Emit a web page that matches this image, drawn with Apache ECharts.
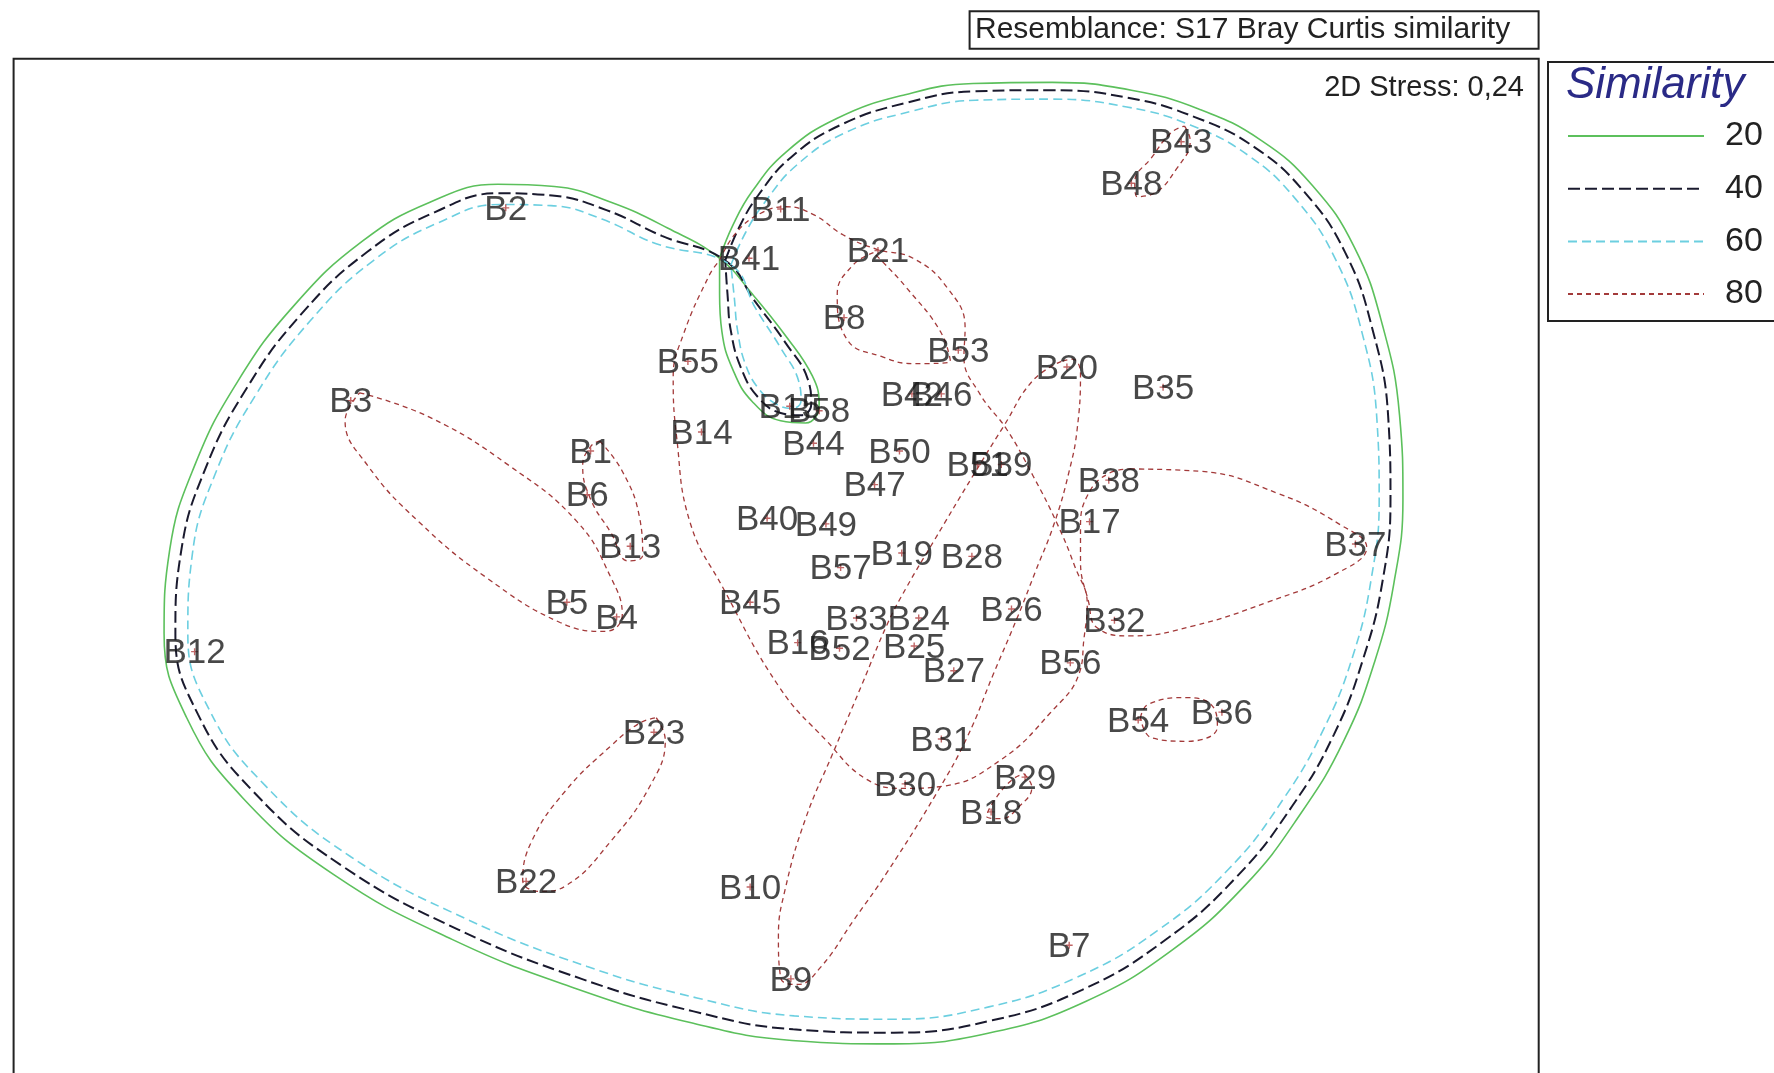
<!DOCTYPE html>
<html><head><meta charset="utf-8">
<script src="https://cdn.jsdelivr.net/npm/echarts@6/dist/echarts.min.js"></script>
<style>html,body{margin:0;padding:0;background:#fff}#chart{width:1774px;height:1073px}</style>
</head><body><div id="chart"></div>
<script>
// ---- Sample ordination (nMDS) coordinates ----
const sampleNames = ['B1','B2','B3','B4','B5','B6','B7','B8','B9','B10','B11','B12','B13','B14','B15','B16','B17','B18','B19','B20','B21','B22','B23','B24','B25','B26','B27','B28','B29','B30','B31','B32','B33','B35','B36','B37','B38','B39','B40','B41','B42','B43','B44','B45','B46','B47','B48','B49','B50','B51','B52','B53','B54','B55','B56','B57','B58'];
const mds1 = [-1.64,-2.39,-3.76,-1.41,-1.85,-1.67,2.59,0.60,0.13,-0.23,0.04,-5.14,-1.29,-0.66,0.12,0.19,2.77,1.90,1.11,2.57,0.90,-2.21,-1.08,1.26,1.22,2.08,1.57,1.73,2.20,1.14,1.46,2.99,0.71,3.42,3.94,5.12,2.94,1.99,-0.08,-0.24,1.20,3.58,0.33,-0.23,1.46,0.87,3.14,0.44,1.09,1.78,0.56,1.61,3.20,-0.78,2.60,0.57,0.38];
const mds2 = [0.98,3.15,1.43,-0.50,-0.37,0.59,-3.43,2.17,-3.73,-2.91,3.14,-0.81,0.13,1.15,1.38,-0.73,0.35,-2.24,0.07,1.73,2.77,-2.86,-1.53,-0.51,-0.76,-0.43,-0.98,0.04,-1.93,-1.99,-1.59,-0.53,-0.51,1.55,-1.35,0.15,0.72,0.86,0.38,2.70,1.49,3.74,1.05,-0.37,1.49,0.68,3.37,0.33,0.98,0.86,-0.78,1.88,-1.42,1.78,-0.91,-0.06,1.34];

const stressText = '2D Stress: 0,24';
const resemblanceText = 'Resemblance: S17 Bray Curtis similarity';
const legendTitle = 'Similarity';
const similarityLevels = ['20','40','60','80'];

// ---- Similarity contours (vertices in nMDS units) ----
const contour20 = [[-0.50,2.70],[-0.38,3.00],[-0.21,3.30],[0.09,3.65],[0.54,3.95],[1.14,4.16],[1.74,4.26],[2.44,4.27],[3.14,4.20],[3.74,4.03],[4.29,3.75],[4.74,3.35],[5.11,2.80],[5.36,2.10],[5.51,1.30],[5.54,0.55],[5.46,-0.20],[5.29,-0.90],[5.02,-1.60],[4.64,-2.25],[4.14,-2.90],[3.49,-3.48],[2.74,-3.93],[1.94,-4.20],[1.04,-4.31],[0.14,-4.28],[-0.76,-4.12],[-1.76,-3.82],[-2.86,-3.38],[-3.91,-2.80],[-4.71,-2.12],[-5.21,-1.40],[-5.41,-0.65],[-5.36,0.10],[-5.14,0.85],[-4.76,1.60],[-4.26,2.28],[-3.66,2.85],[-3.06,3.20],[-2.46,3.36],[-1.96,3.34],[-1.46,3.20],[-0.96,2.97],[-0.50,2.70],[-0.21,2.38],[0.09,2.00],[0.32,1.65],[0.38,1.40],[0.26,1.23],[0.04,1.25],[-0.21,1.42],[-0.38,1.70],[-0.48,2.05],[-0.50,2.38],[-0.50,2.70]];
const contour40 = [[-0.45,2.68],[-0.33,2.97],[-0.16,3.26],[0.13,3.60],[0.57,3.89],[1.16,4.09],[1.75,4.19],[2.44,4.20],[3.12,4.13],[3.70,3.96],[4.23,3.69],[4.67,3.29],[5.03,2.75],[5.27,2.07],[5.41,1.28],[5.43,0.55],[5.36,-0.18],[5.19,-0.87],[4.93,-1.55],[4.56,-2.19],[4.07,-2.82],[3.43,-3.39],[2.70,-3.83],[1.91,-4.10],[1.04,-4.21],[0.15,-4.18],[-0.73,-4.02],[-1.72,-3.73],[-2.81,-3.29],[-3.84,-2.72],[-4.62,-2.06],[-5.11,-1.37],[-5.31,-0.65],[-5.26,0.08],[-5.05,0.81],[-4.68,1.54],[-4.19,2.21],[-3.61,2.76],[-3.02,3.11],[-2.45,3.28],[-1.98,3.26],[-1.50,3.13],[-1.01,2.90],[-0.45,2.68],[-0.19,2.32],[0.08,1.95],[0.28,1.62],[0.31,1.40],[0.22,1.30],[0.04,1.32],[-0.16,1.46],[-0.31,1.72],[-0.40,2.05],[-0.43,2.38],[-0.45,2.68]];
const contour60 = [[-0.40,2.64],[-0.27,2.93],[-0.10,3.20],[0.18,3.53],[0.61,3.82],[1.19,4.01],[1.76,4.11],[2.44,4.12],[3.10,4.05],[3.66,3.89],[4.17,3.62],[4.59,3.23],[4.94,2.70],[5.18,2.03],[5.31,1.26],[5.33,0.55],[5.26,-0.16],[5.10,-0.84],[4.84,-1.50],[4.48,-2.13],[4.00,-2.75],[3.37,-3.30],[2.65,-3.72],[1.88,-3.98],[1.04,-4.09],[0.16,-4.06],[-0.70,-3.90],[-1.67,-3.62],[-2.75,-3.19],[-3.76,-2.64],[-4.53,-1.99],[-5.01,-1.33],[-5.20,-0.65],[-5.16,0.06],[-4.96,0.77],[-4.60,1.48],[-4.12,2.14],[-3.56,2.68],[-2.98,3.02],[-2.44,3.18],[-1.99,3.17],[-1.54,3.05],[-1.06,2.83],[-0.40,2.64],[-0.18,2.25],[0.04,1.90],[0.20,1.60],[0.22,1.43],[0.14,1.36],[0.00,1.40],[-0.15,1.53],[-0.27,1.75],[-0.34,2.05],[-0.37,2.35],[-0.40,2.64]];

const group80_B43_B48 = [[3.61,3.88],[3.66,3.75],[3.54,3.50],[3.34,3.28],[3.19,3.25],[3.17,3.38],[3.32,3.60],[3.49,3.82]];
const group80_B3_B5_B4 = [[-3.68,1.50],[-3.06,1.28],[-2.36,0.85],[-1.76,0.35],[-1.46,-0.15],[-1.36,-0.48],[-1.51,-0.63],[-1.91,-0.55],[-2.56,-0.15],[-3.16,0.35],[-3.61,0.85],[-3.81,1.25]];
const group80_B1_B6_B13 = [[-1.56,1.07],[-1.36,0.80],[-1.21,0.40],[-1.18,0.05],[-1.31,0.00],[-1.46,0.25],[-1.64,0.55],[-1.71,0.85],[-1.64,1.02]];
const group80_B23_B22 = [[-1.06,-1.40],[-0.98,-1.60],[-1.11,-2.00],[-1.46,-2.50],[-1.86,-2.90],[-2.08,-2.95],[-2.24,-2.85],[-2.16,-2.50],[-1.86,-2.05],[-1.46,-1.65],[-1.21,-1.45]];
const group80_B54_B36 = [[3.22,-1.40],[3.29,-1.28],[3.63,-1.22],[3.86,-1.30],[3.90,-1.48],[3.64,-1.61],[3.32,-1.58]];
const group80_B29_B18 = [[2.19,-1.90],[2.26,-2.02],[2.14,-2.20],[1.99,-2.30],[1.86,-2.28],[1.94,-2.12],[2.09,-1.95]];
const group80_B38_B37_B32 = [[3.13,0.82],[3.74,0.80],[4.44,0.60],[4.99,0.32],[5.22,0.12],[4.94,-0.12],[4.34,-0.37],[3.69,-0.58],[3.14,-0.67],[2.84,-0.60],[2.76,-0.36],[2.69,0.00],[2.69,0.30],[2.76,0.60],[2.94,0.78]];
const group80_B41_loop = [[-0.50,2.68],[-0.36,2.92],[-0.14,3.10],[0.09,3.16],[0.33,3.09],[0.59,2.91],[0.89,2.78],[1.21,2.70],[1.51,2.44],[1.67,2.08],[1.66,1.82],[1.80,1.49],[2.04,1.17],[2.27,0.76],[2.48,0.34],[2.64,-0.05],[2.75,-0.39],[2.72,-0.70],[2.68,-1.00],[2.42,-1.36],[1.98,-1.78],[1.48,-2.01],[1.14,-2.03],[0.80,-1.95],[0.44,-1.60],[0.03,-1.13],[-0.47,-0.24],[-0.76,0.34],[-0.88,1.11],[-0.91,1.64],[-0.82,2.02],[-0.59,2.55]];
const group80_B21_B8_B53 = [[0.86,2.75],[0.68,2.64],[0.54,2.38],[0.63,1.97],[0.94,1.82],[1.21,1.76],[1.54,1.78],[1.45,2.05],[1.15,2.44],[0.94,2.67]];
const group80_B20_loop = [[2.52,1.78],[2.27,1.61],[2.01,1.20],[1.74,0.76],[1.39,0.17],[1.15,-0.24],[0.98,-0.57],[0.76,-1.10],[0.50,-1.72],[0.26,-2.30],[0.08,-2.93],[0.02,-3.35],[0.04,-3.72],[0.19,-3.78],[0.39,-3.63],[0.69,-3.20],[0.98,-2.78],[1.42,-2.07],[1.69,-1.57],[1.92,-1.01],[2.13,-0.51],[2.29,-0.10],[2.46,0.34],[2.59,0.80],[2.66,1.17],[2.69,1.67],[2.62,1.80]];

// ---- build chart ----
const FONT = '"Liberation Sans", Arial, sans-serif';
const styles = {
  '20': {color:'#5cc05c', width:1.6, type:'solid'},
  '40': {color:'#1a1a2e', width:2, type:[12,5]},
  '60': {color:'#6ccfe0', width:1.6, type:[9,5]},
  '80': {color:'#a33a3a', width:1.3, type:[5,4]}
};
function closeLoop(arr){ return arr.concat([arr[0]]); }
function contourSeries(level, pts, closed){
  return {
    type:'line', name:level, data: closed ? closeLoop(pts) : pts,
    symbol:'none', smooth:0.45, clip:false, silent:true, animation:false,
    itemStyle:{color: styles[level].color},
    lineStyle: Object.assign({}, styles[level]), z:3
  };
}
const series = [];
[group80_B43_B48, group80_B3_B5_B4, group80_B1_B6_B13, group80_B23_B22, group80_B54_B36,
 group80_B29_B18, group80_B38_B37_B32, group80_B41_loop, group80_B21_B8_B53, group80_B20_loop]
 .forEach(g => series.push(contourSeries('80', g, true)));
series.unshift(contourSeries('60', contour60, false));
series.unshift(contourSeries('40', contour40, false));
series.unshift(contourSeries('20', contour20, false));

series.push({
  type:'scatter', name:'samples', silent:true, animation:false, z:5,
  symbol:'path://M4,0h2v4h4v2h-4v4h-2v-4h-4v-2h4z', symbolSize:7,
  itemStyle:{color:'#b04040', opacity:0.8},
  data: sampleNames.map((n,i)=>({name:n, value:[mds1[i], mds2[i]]})),
  label:{show:true, position:'inside', offset:[0,2], formatter:'{b}', color:'#1a1a1a', fontSize:35, fontFamily:FONT}
});

const chart = echarts.init(document.getElementById('chart'), null, {renderer:'canvas'});
chart.setOption({
  backgroundColor:'#ffffff',
  animation:false,
  grid:{left:13.6, right:235.3, top:58.8, bottom:-10, show:false},
  xAxis:{type:'value', min:-6.74, max:6.74, show:false},
  yAxis:{type:'value', min:-4.57, max:4.48, show:false},
  legend:{
    data: similarityLevels, orient:'vertical', left:1548, top:62,
    padding:[57, 40, 10, 19], itemWidth:136, itemHeight:30, itemGap:18.7,
    borderColor:'#222', borderWidth:2, selectedMode:false,
    itemStyle:{opacity:0, borderWidth:0},
    textStyle:{fontSize:34, color:'#222', fontFamily:FONT, padding:[0,0,0,16], lineHeight:30}
  },
  graphic:[
    {type:'polyline', shape:{points:[[13.6,1080],[13.6,58.8],[1538.7,58.8],[1538.7,1080]]}, style:{fill:null, stroke:'#222', lineWidth:2}},
    {type:'rect', shape:{x:969.6, y:11.3, width:569, height:37.4}, style:{fill:'#fff', stroke:'#222', lineWidth:2}},
    {type:'text', x:975, y:30, style:{text:resemblanceText, font:'30px '+FONT, fill:'#222', textVerticalAlign:'middle'}},
    {type:'text', x:1524, y:88, style:{text:stressText, font:'29px '+FONT, fill:'#222', textAlign:'right', textVerticalAlign:'middle'}},
    {type:'text', x:1566, y:86, style:{text:legendTitle, font:'italic 44px '+FONT, fill:'#2a2a86', textVerticalAlign:'middle'}}
  ],
  series: series
});
</script></body></html>
